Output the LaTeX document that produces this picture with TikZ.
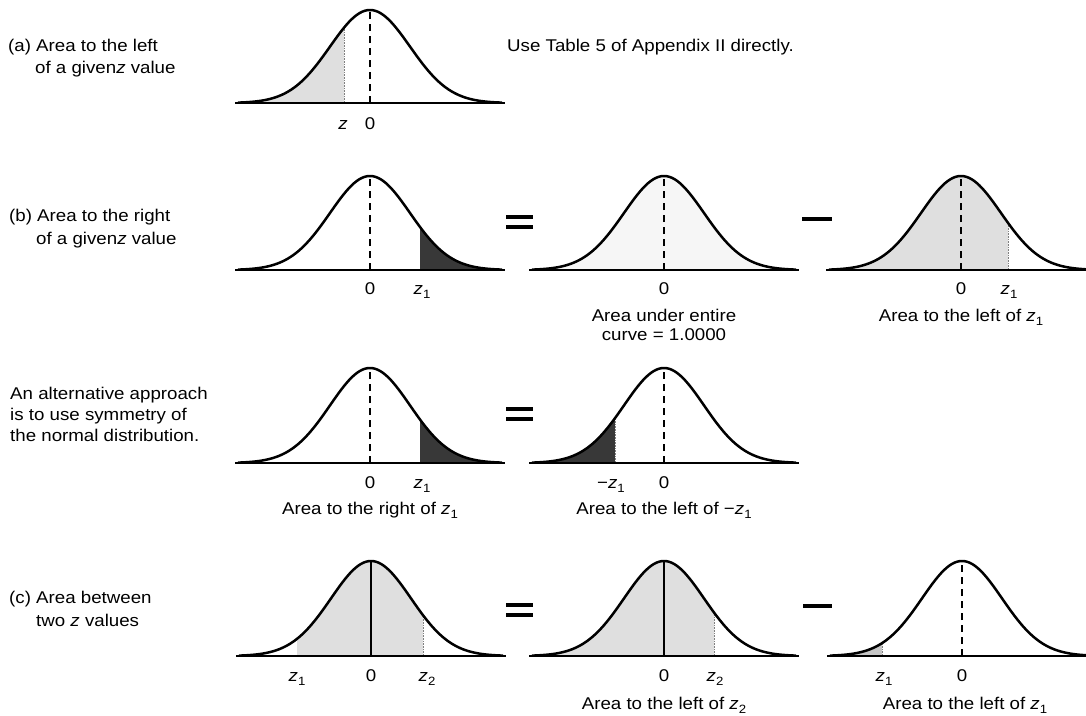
\documentclass[tikz,border=0pt]{standalone}
\usepackage{fontspec}
\setmainfont{Liberation Sans}[FakeStretch=1.1]
\newcommand\lowidx[1]{\raisebox{-0.28em}{\fontsize{12}{12}\selectfont #1}}
\newcommand\zz{\textit{z}}
\newcommand\bell[3]{%
  \draw[axisline] ({#1-135},#2) -- ({#1+135},#2);
  \draw[curve] plot[domain=-3.3:3.3,samples=101,smooth] ({#1+40*\x},{#2-#3*exp(-0.5*\x*\x)});}
\newcommand\bellfill[6]{%
  \fill[#6] ({#1+40*(#4)},#2) -- plot[domain=#4:#5,samples=60,smooth] ({#1+40*\x},{#2-#3*exp(-0.5*\x*\x)}) -- ({#1+40*(#5)},#2) -- cycle;
  \draw[edgeline] ({#1+40*(#5)},#2) -- ({#1+40*(#5)},{#2-#3*exp(-0.5*(#5)*(#5))});}
\begin{document}
\begin{tikzpicture}[x=1pt,y=-1pt,
  curve/.style={line width=2.5pt, line join=round},
  axisline/.style={line width=2.2pt},
  mid/.style={line width=1.7pt, dash pattern=on 7pt off 5pt},
  midsolid/.style={line width=2.2pt},
  edgeline/.style={line width=0.6pt, gray, densely dotted},
  bar/.style={line width=3.4pt},
  light/.style={fill=gray!25},
  faint/.style={fill=gray!7},
  dark/.style={fill=black!78},
  txt/.style={font=\fontsize{17}{23}\selectfont, inner sep=0pt}
]
\useasboundingbox (0,0) rectangle (1086,715);

% ---------- row (a)
\bellfill{370}{103}{93}{-3.3}{-0.65}{light}
\bell{370}{103}{93}
\draw[mid] (370,103) -- (370,10);
\node[txt, anchor=base] (az) at (343,129) {\zz};
\node[txt, anchor=base] (a0) at (370,129) {0};
\node[txt, anchor=base west] (ta1) at (8,51) {(a) Area to the left};
\node[txt, anchor=base west] (ta2) at (35,73) {of a given\zz\ value};
\node[txt, anchor=base west] (tu) at (507,51) {Use Table 5 of Appendix II directly.};

% ---------- row (b)
\bellfill{370}{270}{94}{1.25}{3.3}{dark}
\bell{370}{270}{94}
\draw[mid] (370,270) -- (370,176);
\node[txt, anchor=base] (b10) at (370,294) {0};
\node[txt, anchor=base] (b1z) at (422,294) {\zz\lowidx{1}};
\node[txt, anchor=base west] (tb1) at (9,221) {(b) Area to the right};
\node[txt, anchor=base west] (tb2) at (36,244) {of a given\zz\ value};
\draw[bar] (506,217) -- (533,217);
\draw[bar] (506,227) -- (533,227);

\bellfill{664}{270}{94}{-3.3}{3.3}{faint}
\bell{664}{270}{94}
\draw[mid] (664,270) -- (664,176);
\node[txt, anchor=base] (b20) at (664,294) {0};
\node[txt, anchor=base] (b2t1) at (664,321) {Area under entire};
\node[txt, anchor=base] (b2t2) at (664,340) {curve = 1.0000};
\draw[bar] (802,219) -- (832,219);

\bellfill{961}{270}{94}{-3.3}{1.18}{light}
\bell{961}{270}{94}
\draw[mid, line width=2.2pt] (961,270) -- (961,176);
\node[txt, anchor=base] (b30) at (961,294) {0};
\node[txt, anchor=base] (b3z) at (1009,294) {\zz\lowidx{1}};
\node[txt, anchor=base] (b3t) at (961,321) {Area to the left of \zz\lowidx{1}};

% ---------- alternative row
\bellfill{370}{463}{95}{1.25}{3.3}{dark}
\bell{370}{463}{95}
\draw[mid] (370,463) -- (370,368);
\node[txt, anchor=base] (s10) at (370,488) {0};
\node[txt, anchor=base] (s1z) at (422,488) {\zz\lowidx{1}};
\node[txt, anchor=base] (s1t) at (370,514) {Area to the right of \zz\lowidx{1}};
\node[txt, anchor=base west] (tal1) at (10,399) {An alternative approach};
\node[txt, anchor=base west] (tal2) at (10,420) {is to use symmetry of};
\node[txt, anchor=base west] (tal3) at (10,441) {the normal distribution.};
\draw[bar] (506,409) -- (533,409);
\draw[bar] (506,419) -- (533,419);

\bellfill{664}{463}{95}{-3.3}{-1.23}{dark}
\bell{664}{463}{95}
\draw[mid] (664,463) -- (664,368);
\node[txt, anchor=base] (s2z) at (611,488) {\char"2212\zz\lowidx{1}};
\node[txt, anchor=base] (s20) at (664,488) {0};
\node[txt, anchor=base] (s2t) at (664,514) {Area to the left of \char"2212\zz\lowidx{1}};

% ---------- row (c)
\bellfill{371}{656}{95}{-1.85}{1.3}{light}
\bell{371}{656}{95}
\draw[midsolid] (371,656) -- (371,561);
\node[txt, anchor=base] (c1a) at (297,681) {\zz\lowidx{1}};
\node[txt, anchor=base] (c10) at (371,681) {0};
\node[txt, anchor=base] (c1b) at (427,681) {\zz\lowidx{2}};
\node[txt, anchor=base west] (tc1) at (9,603) {(c) Area between};
\node[txt, anchor=base west] (tc2) at (36,626) {two \zz\ values};
\draw[bar] (506,605) -- (533,605);
\draw[bar] (506,615) -- (533,615);

\bellfill{664}{656}{95}{-3.3}{1.25}{light}
\bell{664}{656}{95}
\draw[midsolid] (664,656) -- (664,561);
\node[txt, anchor=base] (c20) at (664,681) {0};
\node[txt, anchor=base] (c2z) at (715,681) {\zz\lowidx{2}};
\node[txt, anchor=base] (c2t) at (664,709) {Area to the left of \zz\lowidx{2}};
\draw[bar] (803,606) -- (832,606);

\bellfill{962}{656}{95}{-3.3}{-2.0}{fill=gray!45}
\bell{962}{656}{95}
\draw[mid] (962,656) -- (962,561);
\node[txt, anchor=base] (c3z) at (884,681) {\zz\lowidx{1}};
\node[txt, anchor=base] (c30) at (962,681) {0};
\node[txt, anchor=base] (c3t) at (965,709) {Area to the left of \zz\lowidx{1}};
\end{tikzpicture}
\end{document}
